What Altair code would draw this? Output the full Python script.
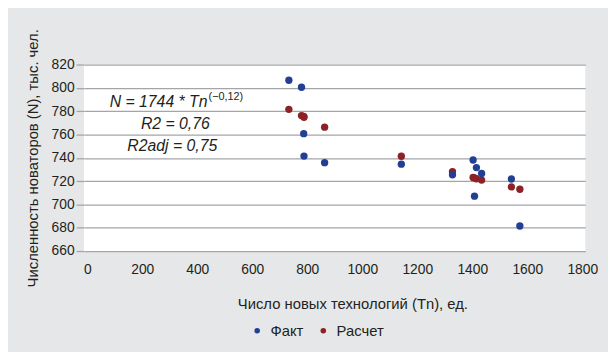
import altair as alt
import pandas as pd

# ---- data ----
tn = [733, 779, 787, 788, 863, 1142, 1328, 1403, 1408, 1415, 1434, 1542, 1573]
fact = [806.5, 800.5, 760.7, 741.5, 735.8, 734.5, 725.4, 738.1, 707.1, 731.6, 726.5, 721.8, 681.5]
calc = [781.6, 776.2, 775.5, 774.8, 766.3, 741.3, 728.2, 723.1, 722.8, 722.0, 720.9, 715.0, 713.0]
series = ["Факт", "Расчет"]
colors = ["#233f94", "#8c2225"]
x_ticks = [0, 200, 400, 600, 800, 1000, 1200, 1400, 1600, 1800]
y_ticks = [660, 680, 700, 720, 740, 760, 780, 800, 820]

ann_main = ["N = 1744 * Tn"]
ann_sup = ["(−0,12)"]
ann_lines = ["R2 = 0,76", "R2adj = 0,75"]
ann_main_pos = [(437, 783.9)]
ann_sup_pos = [(441, 789.8)]
ann_lines_pos = [(320, 764.4), (309, 745.8)]

FONT = "Liberation Sans"
TXT = "#231f20"

rows = []
for s, vals in zip(series, [fact, calc]):
    for x, y in zip(tn, vals):
        rows.append({"Tn": x, "N": y, "series": s})
df = pd.DataFrame(rows)

# plot area is slightly wider than the 0..1800 axis range
xs = alt.Scale(domain=[-12, 1811], nice=False, zero=False)
ys = alt.Scale(domain=[660, 820], nice=False, zero=False)

x_axis = alt.Axis(values=x_ticks, format="d", labelOverlap=False, labelFlush=False,
                  tickCount=10, title="Число новых технологий (Tn), ед.",
                  ticks=False, domain=False, grid=False, labelPadding=12,
                  labelFontSize=14, titleFontSize=15, titleFontWeight="normal",
                  titleX=272, titleY=53, titleBaseline="middle", titleAlign="center",
                  labelColor=TXT, titleColor=TXT, labelFont=FONT, titleFont=FONT)
y_axis = alt.Axis(values=y_ticks, format="d", labelOverlap=False, tickCount=9,
                  title="Численность новаторов (N), тыс. чел.",
                  ticks=True, tickSize=8, tickColor="#a3a5a8", domain=False,
                  grid=True, gridColor="#a3a5a8", gridWidth=1.3, tickWidth=1.3,
                  labelPadding=2, labelFontSize=14, titleFontSize=15,
                  titleFontWeight="normal", titleAngle=270, titleX=-52, titleY=94.5,
                  titleBaseline="middle", titleAlign="center",
                  labelColor=TXT, titleColor=TXT, labelFont=FONT, titleFont=FONT)

points = alt.Chart(df).mark_circle(size=55, opacity=1).encode(
    x=alt.X("Tn:Q", scale=xs, axis=x_axis),
    y=alt.Y("N:Q", scale=ys, axis=y_axis),
    color=alt.Color("series:N", scale=alt.Scale(domain=series, range=colors),
                    sort=series,
                    legend=alt.Legend(title=None, orient="none", direction="horizontal",
                                      legendX=168, legendY=262, symbolType="circle",
                                      symbolSize=32, labelFontSize=15, labelFont=FONT,
                                      labelColor=TXT, columnPadding=12, labelOffset=6,
                                      padding=0)),
    order=alt.Order("series:N"),
)

main_df = pd.DataFrame({"Tn": [p[0] for p in ann_main_pos], "N": [p[1] for p in ann_main_pos], "t": ann_main})
sup_df = pd.DataFrame({"Tn": [p[0] for p in ann_sup_pos], "N": [p[1] for p in ann_sup_pos], "t": ann_sup})
lines_df = pd.DataFrame({"Tn": [p[0] for p in ann_lines_pos], "N": [p[1] for p in ann_lines_pos], "t": ann_lines})

def txt(d, **kw):
    return alt.Chart(d).mark_text(baseline="alphabetic", font=FONT, color=TXT, **kw).encode(
        x=alt.X("Tn:Q", scale=xs, axis=x_axis),
        y=alt.Y("N:Q", scale=ys, axis=y_axis),
        text="t:N")

t_main = txt(main_df, align="right", fontSize=16, fontStyle="italic")
t_sup = txt(sup_df, align="left", fontSize=11)
t_lines = txt(lines_df, align="center", fontSize=16, fontStyle="italic")

chart = alt.layer(points, t_main, t_sup, t_lines).properties(
    width=508, height=189,
    autosize=alt.AutoSizeParams(type="none"),
    padding={"left": 77, "top": 55, "right": 23, "bottom": 100},
    background="#e6e7e8",
).configure_view(fill="white", stroke=None)

chart.save("out.html", embed_options={"renderer": "svg", "actions": False})
